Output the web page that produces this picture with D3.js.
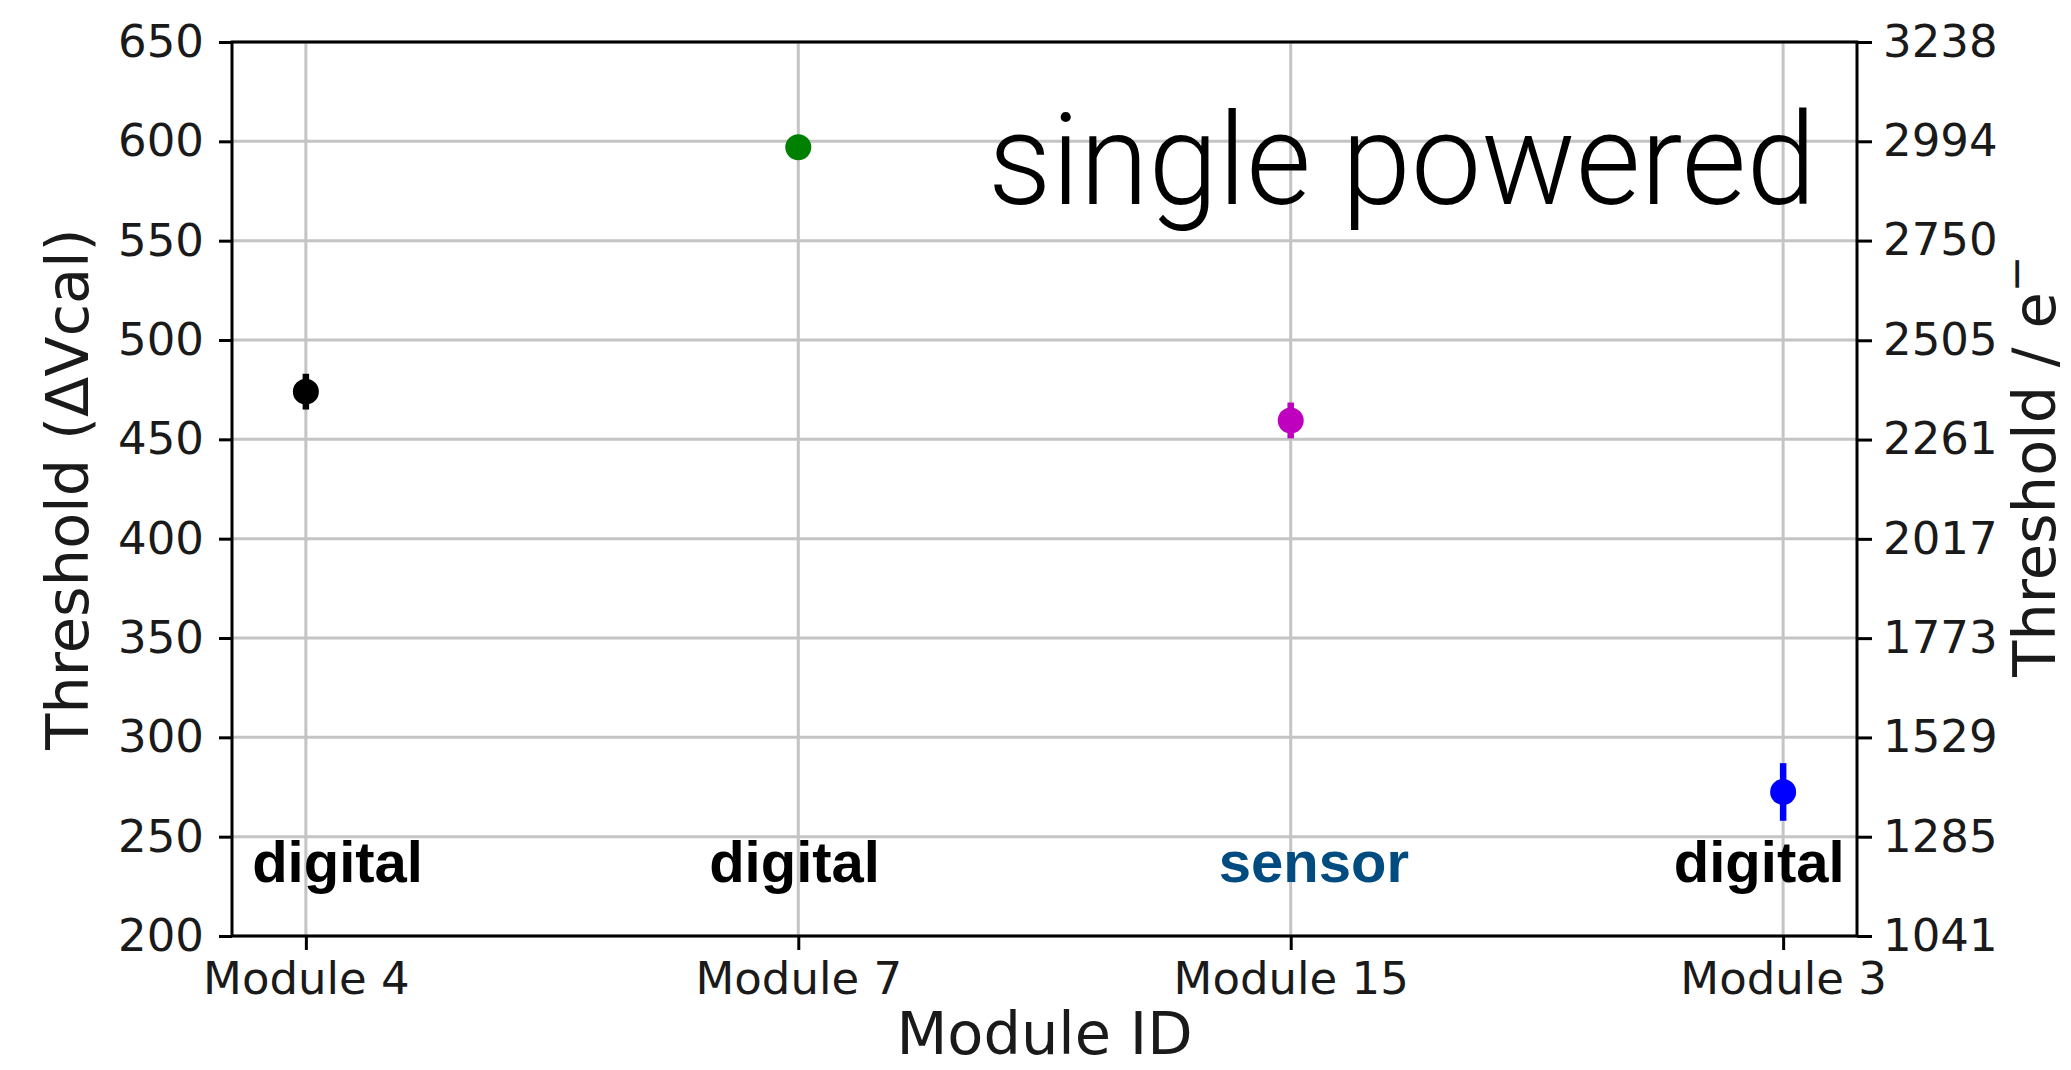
<!DOCTYPE html>
<html>
<head>
<meta charset="utf-8">
<script src="https://cdn.jsdelivr.net/npm/d3@7"></script>
<style>
  html, body { margin: 0; padding: 0; background: #fff; }
  svg { display: block; }
</style>
</head>
<body>
<svg id="chart" width="2071" height="1070"></svg>
<script>
// Threshold per module, in ΔVcal, with the mean-threshold uncertainty
const modules   = ["Module 4", "Module 7", "Module 15", "Module 3"];
const threshold = [474, 597, 459.5, 272.5];
const thrError  = [9, 0, 9, 14.5];
const colors    = ["#000000", "#008000", "#bf00bf", "#0000ff"];

// Left axis ticks (ΔVcal) and their equivalents in electrons on the right axis
const vcalTicks     = [200, 250, 300, 350, 400, 450, 500, 550, 600, 650];
const electronTicks = [1041, 1285, 1529, 1773, 2017, 2261, 2505, 2750, 2994, 3238];

// Per-module supply type annotations
const noteText  = ["digital", "digital", "sensor", "digital"];
const noteColor = ["#000000", "#000000", "#004c80", "#000000"];

const svg = d3.select("#chart");
const W = 2071, H = 1070;
const plot = { left: 232, right: 1857, top: 42, bottom: 936 };

svg.append("rect").attr("width", W).attr("height", H).attr("fill", "#fff");

const x = d3.scaleLinear().domain([-0.15, modules.length - 1 + 0.15]).range([plot.left, plot.right]);
const y = d3.scaleLinear().domain([200, 650]).range([plot.bottom, plot.top]);
const y2 = d3.scaleLinear().domain([1041, 3238]).range([plot.bottom, plot.top]);

const tickFont = "'DejaVu Sans', sans-serif";

// grid
const grid = svg.append("g").attr("stroke", "#c4c4c4").attr("stroke-width", 3);
vcalTicks.forEach(v => {
  grid.append("line").attr("x1", plot.left).attr("x2", plot.right)
    .attr("y1", y(v)).attr("y2", y(v));
});
modules.forEach((m, i) => {
  grid.append("line").attr("x1", x(i)).attr("x2", x(i))
    .attr("y1", plot.top).attr("y2", plot.bottom);
});

// axes
function styleAxis(g) {
  g.select(".domain").remove();
  g.selectAll(".tick line").attr("stroke", "#000").attr("stroke-width", 3);
  g.selectAll(".tick text").attr("fill", "#1a1a1a")
    .style("font-family", tickFont).style("font-size", "45px");
}

svg.append("g")
  .attr("transform", `translate(${plot.left},0)`)
  .call(d3.axisLeft(y).tickValues(vcalTicks).tickFormat(d3.format("d")).tickSize(13).tickPadding(15))
  .call(styleAxis);

svg.append("g")
  .attr("transform", `translate(${plot.right},0)`)
  .call(d3.axisRight(y2).tickValues(electronTicks).tickFormat(d3.format("d")).tickSize(15).tickPadding(11))
  .call(styleAxis);

svg.append("g")
  .attr("transform", `translate(0,${plot.bottom})`)
  .call(d3.axisBottom(x).tickValues(d3.range(modules.length)).tickFormat(i => modules[i]).tickSize(14).tickPadding(12))
  .call(styleAxis);

// frame
svg.append("rect")
  .attr("x", plot.left).attr("y", plot.top)
  .attr("width", plot.right - plot.left).attr("height", plot.bottom - plot.top)
  .attr("fill", "none").attr("stroke", "#000").attr("stroke-width", 3);

// error bars and markers
const pts = svg.append("g");
modules.forEach((m, i) => {
  if (thrError[i] > 0) {
    pts.append("line")
      .attr("x1", x(i)).attr("x2", x(i))
      .attr("y1", y(threshold[i] - thrError[i]))
      .attr("y2", y(threshold[i] + thrError[i]))
      .attr("stroke", colors[i]).attr("stroke-width", 6.5);
  }
  pts.append("circle")
    .attr("cx", x(i)).attr("cy", y(threshold[i])).attr("r", 13)
    .attr("fill", colors[i]);
});

// annotations
const noteX = [-0.109, 0.819, 1.854, 2.778];
noteText.forEach((t, i) => {
  svg.append("text")
    .attr("x", x(noteX[i])).attr("y", y(227))
    .attr("fill", noteColor[i])
    .style("font-family", "'Liberation Sans', Arial, sans-serif")
    .style("font-weight", "bold").style("font-size", "58px")
    .text(t);
});

svg.append("text")
  .attr("x", 988).attr("y", 204)
  .attr("fill", "#000")
  .attr("textLength", 828).attr("lengthAdjust", "spacingAndGlyphs")
  .style("font-family", "Roboto, 'Liberation Sans', Arial, sans-serif")
  .style("font-weight", "300")
  .style("font-size", "128px")
  .text("single powered");

// axis titles
svg.append("text")
  .attr("transform", `translate(88,${(plot.top + plot.bottom) / 2}) rotate(-90)`)
  .attr("text-anchor", "middle").attr("fill", "#1a1a1a")
  .style("font-family", tickFont).style("font-size", "59px")
  .text("Threshold (ΔVcal)");

const rLab = svg.append("text")
  .attr("transform", `translate(2055,466) rotate(-90)`)
  .attr("text-anchor", "middle").attr("fill", "#1a1a1a")
  .style("font-family", tickFont).style("font-size", "59px");
rLab.append("tspan").text("Threshold / e");
rLab.append("tspan").attr("dy", -24).style("font-size", "44px").text("−");

svg.append("text")
  .attr("x", (plot.left + plot.right) / 2).attr("y", 1054)
  .attr("text-anchor", "middle").attr("fill", "#1a1a1a")
  .style("font-family", tickFont).style("font-size", "59px")
  .text("Module ID");
</script>
</body>
</html>
